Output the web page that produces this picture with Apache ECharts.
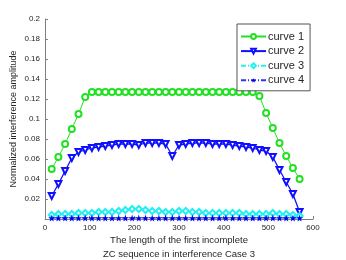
<!DOCTYPE html>
<html><head><meta charset="utf-8">
<script src="https://cdn.jsdelivr.net/npm/echarts@6/dist/echarts.min.js"></script>
<style>html,body{margin:0;padding:0;background:#fff}#c{width:346px;height:260px}</style>
</head><body><div id="c"></div>
<script>
const xValues = [15,30,45,60,75,90,105,120,135,150,165,180,195,210,225,240,255,270,285,300,315,330,345,360,375,390,405,420,435,450,465,480,495,510,525,540,555,570];
const curve1 = [0.050,0.062,0.075,0.090,0.105,0.122,0.127,0.127,0.127,0.127,0.127,0.127,0.127,0.127,0.127,0.127,0.127,0.127,0.127,0.127,0.127,0.127,0.127,0.127,0.127,0.127,0.127,0.127,0.127,0.127,0.127,0.123,0.106,0.091,0.076,0.063,0.051,0.040];
const curve2 = [0.023,0.035,0.048,0.061,0.067,0.069,0.071,0.072,0.073,0.074,0.075,0.075,0.075,0.074,0.076,0.076,0.076,0.075,0.063,0.074,0.075,0.076,0.076,0.076,0.075,0.075,0.075,0.074,0.073,0.072,0.071,0.069,0.068,0.062,0.049,0.037,0.025,0.007];
const curve3 = [0.004,0.005,0.005,0.005,0.006,0.006,0.006,0.007,0.007,0.007,0.008,0.009,0.010,0.010,0.009,0.008,0.008,0.007,0.007,0.008,0.008,0.007,0.007,0.006,0.006,0.006,0.006,0.006,0.006,0.005,0.005,0.005,0.005,0.006,0.005,0.005,0.004,0.003];
const curve4 = [0.001,0.001,0.001,0.001,0.001,0.001,0.001,0.001,0.001,0.001,0.001,0.001,0.001,0.001,0.001,0.001,0.001,0.001,0.001,0.001,0.001,0.001,0.001,0.001,0.001,0.001,0.001,0.001,0.001,0.001,0.001,0.001,0.001,0.001,0.001,0.001,0.001,0.001];
const seriesNames = ['curve 1','curve 2','curve 3','curve 4'];
const xName = 'The length of the first incomplete\nZC sequence in interference Case 3';
const yName = 'Normalized interference amplitude';

const pair = arr => arr.map((v,i)=>[xValues[i], v]);
const star = 'path://M50,0 L61,35 L98,35 L68,57 L79,91 L50,70 L21,91 L32,57 L2,35 L39,35 Z';
const txt = '#262626';
const axisCol = '#808080';

const chart = echarts.init(document.getElementById('c'), null, {renderer:'canvas'});
chart.setOption({
  animation:false,
  backgroundColor:'#fff',
  textStyle:{fontFamily:'Liberation Sans, Arial, sans-serif'},
  grid:{left:45,right:33,top:19,bottom:41,containLabel:false,outerBoundsMode:'none'},
  legend:{
    orient:'vertical', left:237, top:24, width:71,
    padding:[7,6,5,3], itemGap:3.6, itemWidth:25, itemHeight:6,
    backgroundColor:'#fff', borderColor:'#555', borderWidth:1,
    textStyle:{fontSize:11, color:txt, padding:[0,0,0,-3]},
    data:seriesNames
  },
  xAxis:{
    type:'value', min:0, max:600, interval:100,
    name:xName, nameLocation:'middle', nameGap:14, nameMoveOverlap:false,
    nameTextStyle:{fontSize:9.5, color:txt, lineHeight:14},
    axisLine:{lineStyle:{color:axisCol}},
    axisTick:{inside:true, length:3, lineStyle:{color:axisCol}},
    axisLabel:{fontSize:8, color:txt, margin:5},
    splitLine:{show:false}
  },
  yAxis:{
    type:'value', min:0, max:0.2, interval:0.02,
    name:yName, nameLocation:'middle', nameGap:27, nameMoveOverlap:false,
    nameTextStyle:{fontSize:9, color:txt},
    axisLine:{show:true, lineStyle:{color:axisCol}},
    axisTick:{show:true, inside:true, length:3, lineStyle:{color:axisCol}},
    axisLabel:{fontSize:8, color:txt, margin:5, formatter:v=> v===0 ? '' : String(+v.toFixed(2))},
    splitLine:{show:false}
  },
  series:[
    {name:seriesNames[0], type:'line', data:pair(curve1), symbol:'emptyCircle', symbolSize:6,
     itemStyle:{color:'#22e022', borderWidth:1}, lineStyle:{color:'#22e022', width:1}},
    {name:seriesNames[1], type:'line', data:pair(curve2), symbol:'emptyTriangle', symbolRotate:180, symbolSize:6,
     itemStyle:{color:'#1010ff', borderWidth:1}, lineStyle:{color:'#1010ff', width:1.3}},
    {name:seriesNames[2], type:'line', data:pair(curve3), symbol:'emptyDiamond', symbolSize:6,
     itemStyle:{color:'#22f0f0', borderWidth:1}, lineStyle:{color:'#22f0f0', width:1, type:[5,2,1,2]}},
    {name:seriesNames[3], type:'line', data:pair(curve4), symbol:star, symbolSize:7,
     itemStyle:{color:'#0000ee'}, lineStyle:{color:'#3030ff', width:1, type:[5,2,1,2]}}
  ]
});
</script></body></html>
